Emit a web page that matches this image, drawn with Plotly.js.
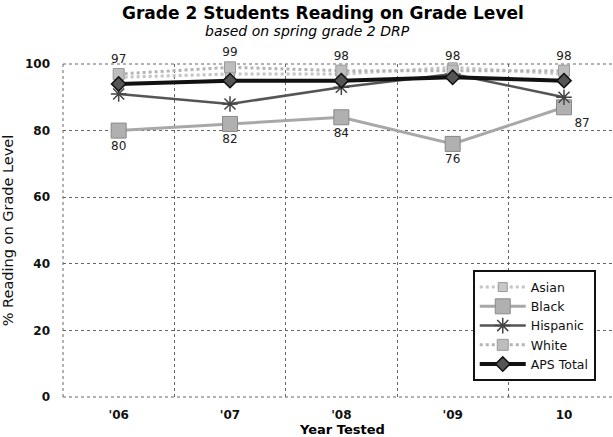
<!DOCTYPE html>
<html>
<head>
<meta charset="utf-8">
<script src="https://cdn.plot.ly/plotly-3.0.1.min.js"></script>
<style>html,body{margin:0;padding:0;background:#fff;}#chart{width:613px;height:437px;}</style>
</head>
<body>
<div id="chart"></div>
<script>
const years = ["'06", "'07", "'08", "'09", "10"];
const asian = [96, 97, 97, 99, 97];
const black = [80, 82, 84, 76, 87];
const hispanic = [91, 88, 93, 97, 90];
const white = [97, 99, 98, 98, 98];
const apsTotal = [94, 95, 95, 96, 95];

const FONT = 'DejaVu Sans, Arial, sans-serif';

const traces = [
  {name: 'Asian', x: years, y: asian, type: 'scatter', mode: 'lines+markers',
   line: {color: '#c4c4c4', width: 3, dash: 'dot'},
   marker: {symbol: 'square', size: 9, color: '#c8c8c8', line: {color: '#999', width: 1}}},
  {name: 'Black', x: years, y: black, type: 'scatter', mode: 'lines+markers+text',
   text: black.map(String), textposition: ['bottom center','bottom center','bottom center','bottom center','bottom right'],
   textfont: {family: FONT, size: 12, color: '#222'},
   line: {color: '#a8a8a8', width: 3},
   marker: {symbol: 'square', size: 15, color: '#b0b0b0', line: {color: '#888', width: 1}}},
  {name: 'Hispanic', x: years, y: hispanic, type: 'scatter', mode: 'lines+markers',
   line: {color: '#555', width: 2.5},
   marker: {symbol: 'asterisk-open', size: 13, color: '#444', line: {color: '#444', width: 1.5}}},
  {name: 'White', x: years, y: white, type: 'scatter', mode: 'lines+markers+text',
   text: white.map(String), textposition: 'top center',
   textfont: {family: FONT, size: 12, color: '#222'},
   line: {color: '#b4b4b4', width: 3, dash: 'dot'},
   marker: {symbol: 'square', size: 11, color: '#bdbdbd', line: {color: '#999', width: 1}}},
  {name: 'APS Total', x: years, y: apsTotal, type: 'scatter', mode: 'lines+markers',
   line: {color: '#111', width: 4},
   marker: {symbol: 'diamond', size: 11, color: '#555', line: {color: '#111', width: 1.5}}}
];

traces.forEach(t => t.cliponaxis = false);

const frameLine = {color: '#666', width: 1, dash: 'dot'};

const layout = {
  width: 613, height: 437,
  margin: {l: 63, r: 0, t: 64, b: 40},
  paper_bgcolor: '#fff', plot_bgcolor: '#fff',
  showlegend: true,
  font: {family: FONT, color: '#111'},
  legend: {x: 0.745, y: 0.38, xanchor: 'left', yanchor: 'top',
    bgcolor: '#fff', bordercolor: '#111', borderwidth: 2,
    font: {family: FONT, size: 12.5, color: '#111'}, tracegroupgap: 2, itemwidth: 46},
  xaxis: {type: 'category', range: [-0.5, 4.44], tickson: 'boundaries',
    showgrid: true, gridcolor: '#666', griddash: 'dot', gridwidth: 1,
    showline: false, zeroline: false, ticks: '', ticklen: 0, ticklabelstandoff: 9,
    tickfont: {family: FONT, size: 12, color: '#111', weight: 'bold'}, fixedrange: true},
  yaxis: {range: [0, 100], tickvals: [0, 20, 40, 60, 80, 100],
    showgrid: true, gridcolor: '#666', griddash: 'dot', gridwidth: 1,
    showline: false, zeroline: false, ticks: '', ticklabelstandoff: 12,
    tickfont: {family: FONT, size: 12, color: '#111', weight: 'bold'},
    title: {text: '% Reading on Grade Level', font: {family: FONT, size: 14.5, color: '#111'}, standoff: 8}},
  shapes: [
    {type: 'line', xref: 'paper', yref: 'paper', x0: 0, x1: 1, y0: 0, y1: 0, line: frameLine, layer: 'below'},
    {type: 'line', xref: 'paper', yref: 'paper', x0: 0, x1: 1, y0: 1, y1: 1, line: frameLine, layer: 'below'},
    {type: 'line', xref: 'paper', yref: 'paper', x0: 0, x1: 0, y0: 0, y1: 1, line: frameLine, layer: 'below'}
  ],
  annotations: [
    {text: '<b>Grade 2 Students Reading on Grade Level</b>', xref: 'paper', yref: 'paper',
     x: 0.473, y: 1, yshift: 51, xanchor: 'center', yanchor: 'middle', showarrow: false,
     font: {family: FONT, size: 17, color: '#000'}},
    {text: '<i>based on spring grade 2 DRP</i>', xref: 'paper', yref: 'paper',
     x: 0.445, y: 1, yshift: 33, xanchor: 'center', yanchor: 'middle', showarrow: false,
     font: {family: FONT, size: 14, color: '#000'}},
    {text: '<b>Year Tested</b>', xref: 'paper', yref: 'paper',
     x: 0.508, y: 0, yshift: -32, xanchor: 'center', yanchor: 'middle', showarrow: false,
     font: {family: FONT, size: 13, color: '#000'}}
  ]
};

Plotly.newPlot('chart', traces, layout, {displayModeBar: false, staticPlot: true});
</script>
</body>
</html>
